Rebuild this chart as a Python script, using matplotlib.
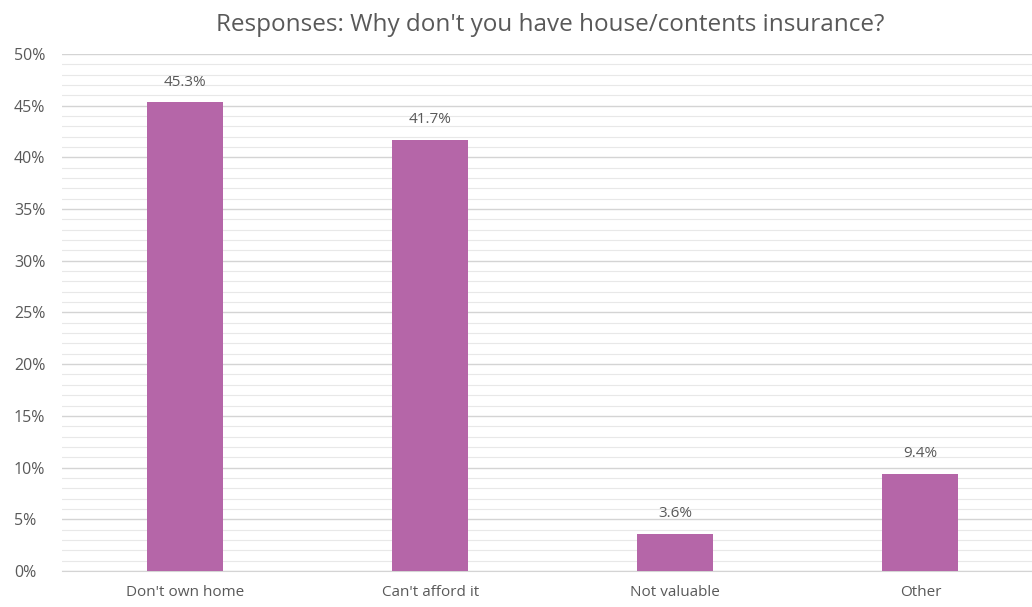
import matplotlib
matplotlib.use("Agg")
import matplotlib.pyplot as plt
from matplotlib.ticker import MultipleLocator, FuncFormatter

categories = ["Don't own home", "Can't afford it", "Not valuable", "Other"]
values = [45.3, 41.7, 3.6, 9.4]

bar_color = "#B566A8"
text_color = "#595959"

plt.rcParams['font.family'] = ['Open Sans', 'DejaVu Sans']

fig = plt.figure(figsize=(10.32, 6.07), dpi=100)
ax = fig.add_axes([0.0605, 0.0593, 0.9395, 0.852])

x = range(len(categories))
bars = ax.bar(x, values, width=0.31, color=bar_color, zorder=3)

for xi, v in zip(x, values):
    ax.text(xi, v + 1.2, f"{v:.1f}%", ha='center', va='bottom',
            fontsize=11, color=text_color)

ax.set_ylim(0, 50)
ax.set_xlim(-0.5, 3.455)
ax.yaxis.set_major_locator(MultipleLocator(5))
ax.yaxis.set_minor_locator(MultipleLocator(1))
ax.yaxis.set_major_formatter(FuncFormatter(lambda v, p: f"{v:.0f}%"))
ax.grid(which='major', axis='y', color='#d4d4d4', linewidth=1, zorder=0)
ax.grid(which='minor', axis='y', color='#e8e8e8', linewidth=0.8, zorder=0)

ax.set_xticks(list(x))
ax.set_xticklabels(categories)
ax.tick_params(axis='both', which='both', length=0, colors=text_color, labelsize=11)
ax.tick_params(axis='x', pad=10)
ax.tick_params(axis='y', pad=35, labelsize=11.5)
for lbl in ax.get_yticklabels():
    lbl.set_horizontalalignment('left')
for s in ['top', 'right', 'left']:
    ax.spines[s].set_visible(False)
ax.spines['bottom'].set_color('#d4d4d4')

fig.text(0.533, 0.958, "Responses: Why don't you have house/contents insurance?",
         ha='center', va='center', fontsize=17.5, color=text_color)

fig.savefig("out.png", dpi=100)
